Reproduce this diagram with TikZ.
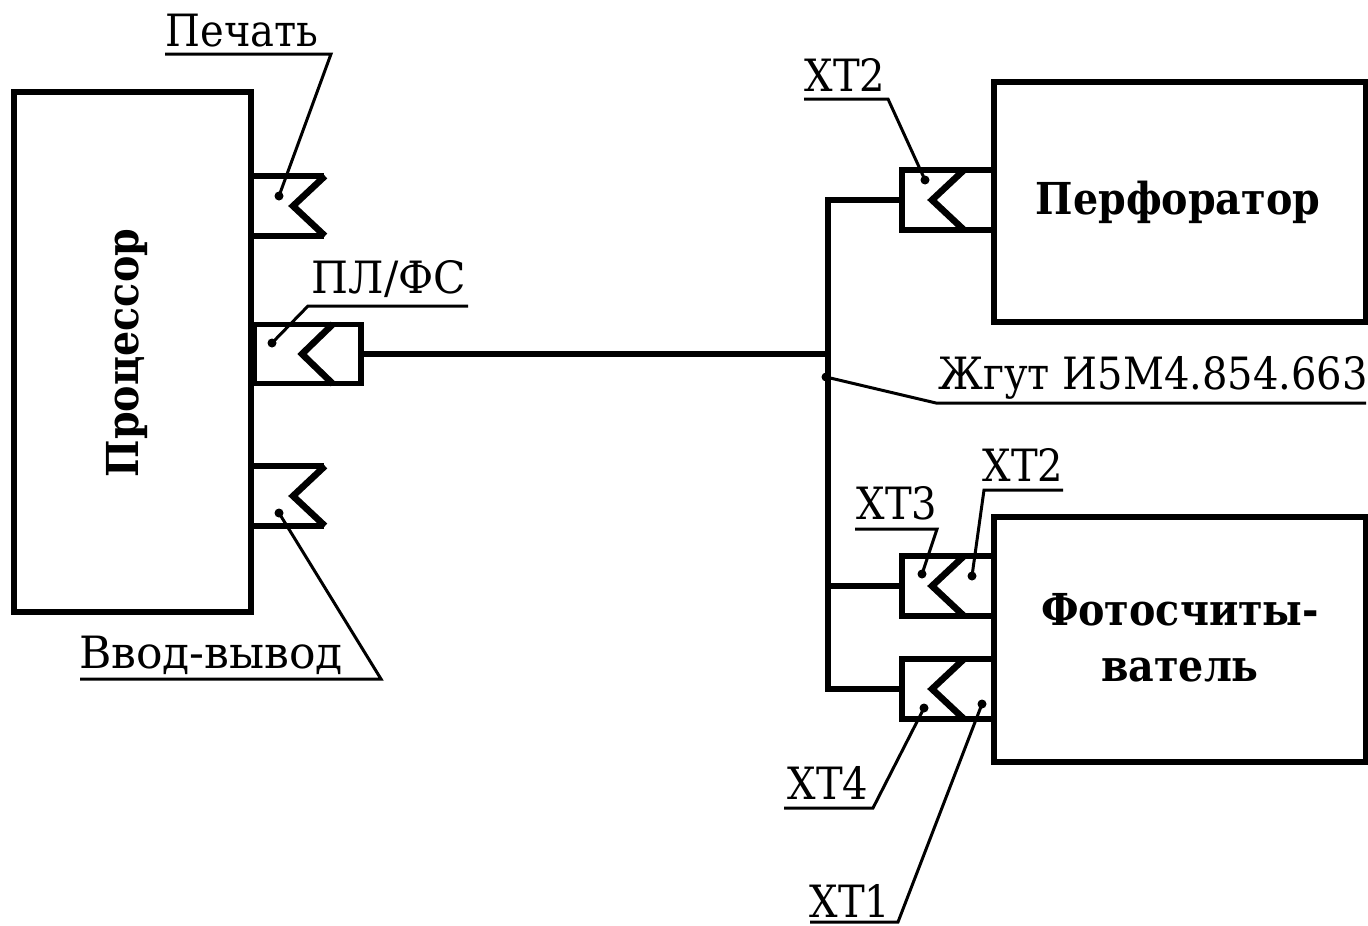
\documentclass[tikz,border=0pt]{standalone}
\usepackage{fontspec}
\setmainfont{DejaVu Serif Condensed}
\newcommand{\lblfont}{\fontsize{44.5}{46}\selectfont}
\newcommand{\boldlblfont}{\fontsize{44}{56}\selectfont\bfseries}
\tikzset{
  x=1pt,y=-1pt,
  thick line/.style={line width=5.6pt,line cap=butt,line join=miter},
  chevron/.style={line width=6.6pt,line cap=butt,line join=miter},
  thin line/.style={line width=3pt,line cap=butt,line join=miter},
  unit box/.style={draw,line width=5.6pt,inner sep=0pt,align=center,font=\boldlblfont},
  plug box/.style={draw,line width=5.6pt,inner sep=0pt},
  lbl/.style={inner sep=0pt,anchor=base,font=\lblfont},
  pin/.style={circle,fill=black,inner sep=0pt,minimum size=9pt},
}
\begin{document}
\begin{tikzpicture}
\useasboundingbox (0,0) rectangle (1368,926);
% units
\node[unit box,minimum width=237pt,minimum height=520pt] (proc) at (132.5,352) {};
\node[font=\boldlblfont,rotate=90] (proclabel) at (127,353) {Процессор};
\node[unit box,minimum width=372pt,minimum height=240pt] (perf) at (1180,202) {};
\node[font=\boldlblfont] (perflabel) at (1178,202) {Перфоратор};
\node[unit box,minimum width=372pt,minimum height=245pt] (photo) at (1180,639.5) {};
\node[font=\boldlblfont,align=center] (photolabel) at (1180,638) {Фотосчиты-\\ватель};
% processor connectors
\draw[thick line] (254,176) -- (324,176);
\draw[thick line] (254,236) -- (324,236);
\draw[chevron] (325,176) -- (293,206) -- (325,236);
\draw[thick line] (254,466) -- (324,466);
\draw[thick line] (254,526) -- (324,526);
\draw[chevron] (325,466) -- (293,496) -- (325,526);
\node[plug box,minimum width=107pt,minimum height=59pt] (plug) at (307.5,354) {};
\draw[chevron] (333,324) -- (302,354) -- (333,384);
% right connectors
\node[plug box,minimum width=92pt,minimum height=60pt] (c1) at (948,200) {};
\draw[chevron] (964,170) -- (932,200) -- (964,230);
\node[plug box,minimum width=92pt,minimum height=60pt] (c2) at (948,586) {};
\draw[chevron] (964,556) -- (932,586) -- (964,616);
\node[plug box,minimum width=92pt,minimum height=60pt] (c3) at (948,689) {};
\draw[chevron] (964,659) -- (932,689) -- (964,719);
% bus
\coordinate (busjoin) at (828,354);
\draw[thick line] (plug.east) -- (busjoin);
\draw[thick line] (c1.west) -- (828,200) -- (828,689) -- (c3.west);
\draw[thick line] (c2.west) -- (828,586);
% labels with leaders
\node[lbl] (t1) at (242,46) {Печать};
\node[pin] (p1) at (279,196) {};
\draw[thin line] (165,54) -- (331,54) -- (p1.center);
\node[lbl] (t2) at (389,293) {\scalebox{1.06}[1]{ПЛ/ФС}};
\node[pin] (p2) at (272,343) {};
\draw[thin line] (468,306) -- (308,306) -- (p2.center);
\node[lbl] (t3) at (211,668) {\scalebox{1.1}[1]{Ввод-вывод}};
\node[pin] (p3) at (279,513) {};
\draw[thin line] (80,679) -- (381,679) -- (p3.center);
\node[lbl] (t4) at (845,91) {ХТ2};
\node[pin] (p4) at (925,180) {};
\draw[thin line] (804,99) -- (888,99) -- (p4.center);
\node[lbl] (t5) at (1153,389) {Жгут И5М4.854.663};
\node[pin] (p5) at (826,377) {};
\draw[thin line] (1366,403) -- (936,403) -- (p5.center);
\node[lbl] (t6) at (897,519) {ХТ3};
\node[pin] (p6) at (922,574) {};
\draw[thin line] (855,529) -- (937,529) -- (p6.center);
\node[lbl] (t7) at (1023,481) {ХТ2};
\node[pin] (p7) at (972,576) {};
\draw[thin line] (1063,490) -- (984,490) -- (p7.center);
\node[lbl] (t8) at (828,799) {ХТ4};
\node[pin] (p8) at (924,708) {};
\draw[thin line] (784,808) -- (873,808) -- (p8.center);
\node[lbl] (t9) at (850,917) {ХТ1};
\node[pin] (p9) at (982,704) {};
\draw[thin line] (810,922) -- (898,922) -- (p9.center);
\end{tikzpicture}
\end{document}
